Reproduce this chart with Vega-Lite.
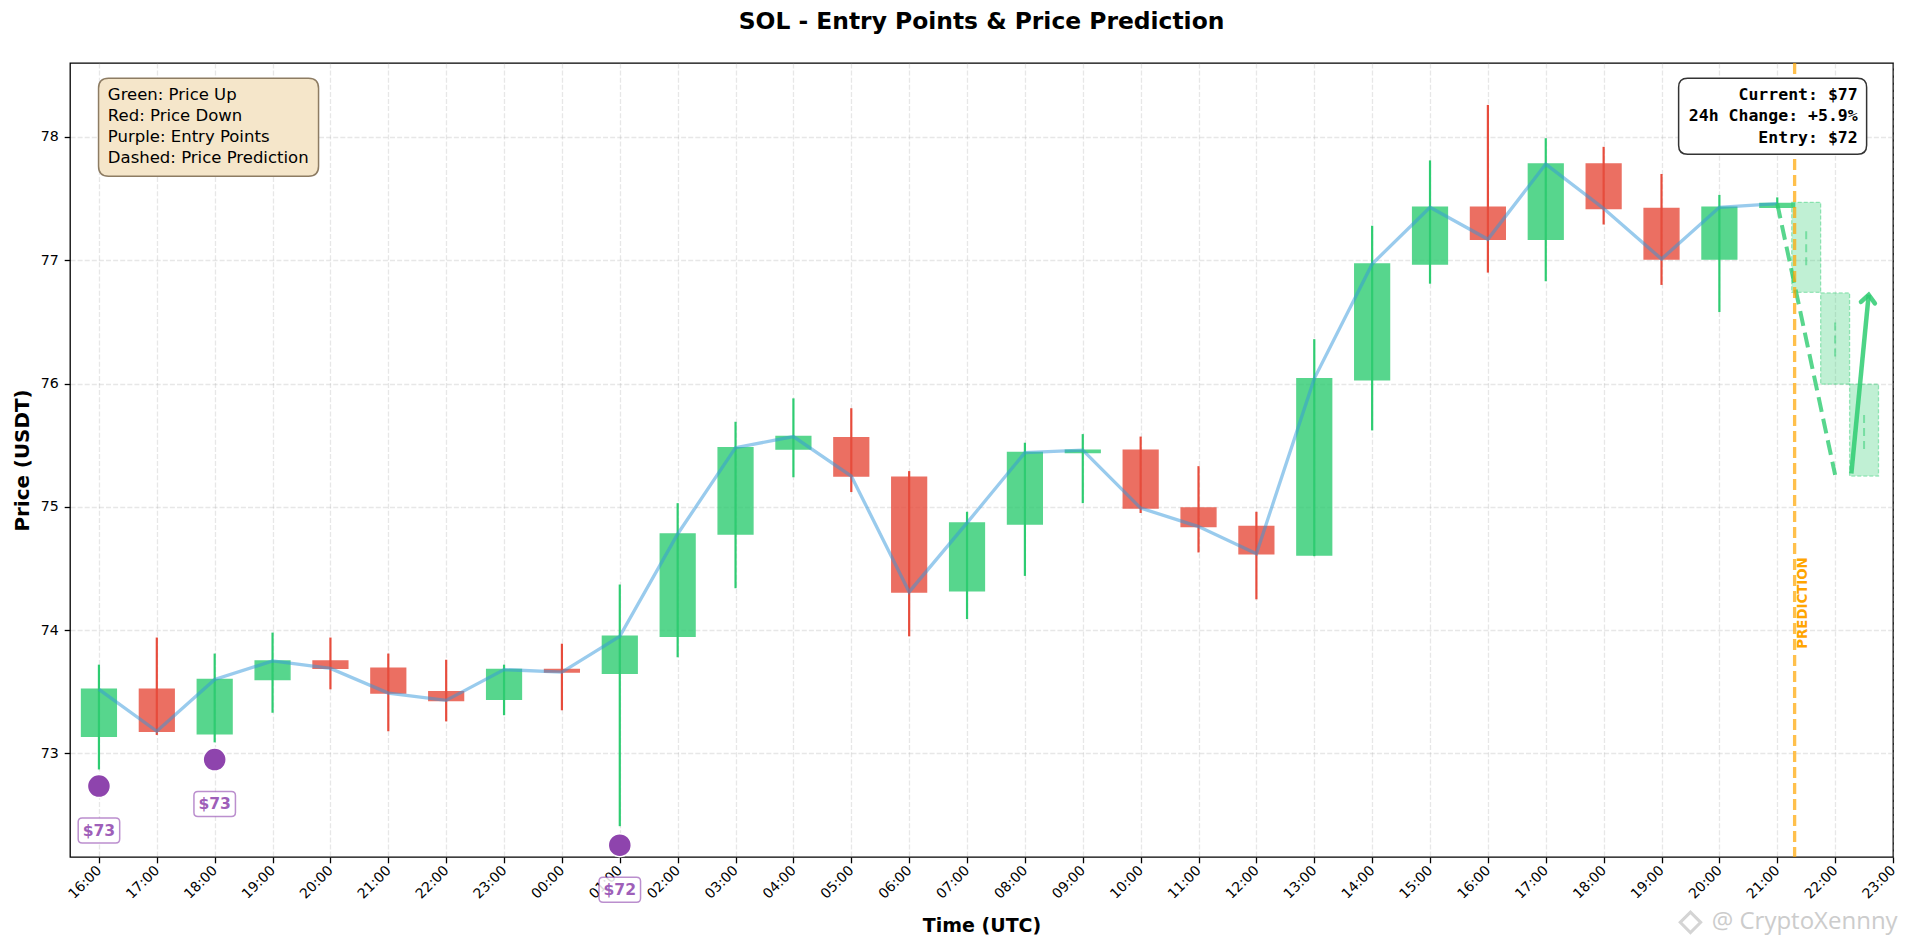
{
  "$schema": "https://vega.github.io/schema/vega-lite/v6.json",
  "width": 1823,
  "height": 794,
  "autosize": {"type": "none"},
  "padding": {"left": 70, "top": 63, "right": 12, "bottom": 90},
  "background": "white",
  "title": {
    "text": "SOL - Entry Points & Price Prediction",
    "font": "DejaVu Sans",
    "fontSize": 23.4,
    "fontWeight": "bold",
    "color": "black",
    "anchor": "middle",
    "offset": 27
  },
  "config": {
    "font": "DejaVu Sans",
    "view": {"stroke": "black", "strokeWidth": 1.3},
    "scale": {"continuousPadding": 0}
  },
  "datasets": {
    "candles": [
      {"i": 0, "time": "16:00", "open": 73.14, "high": 73.72, "low": 72.87, "close": 73.52},
      {"i": 1, "time": "17:00", "open": 73.52, "high": 73.94, "low": 73.15, "close": 73.18},
      {"i": 2, "time": "18:00", "open": 73.16, "high": 73.81, "low": 73.09, "close": 73.60},
      {"i": 3, "time": "19:00", "open": 73.60, "high": 73.98, "low": 73.33, "close": 73.75},
      {"i": 4, "time": "20:00", "open": 73.75, "high": 73.94, "low": 73.52, "close": 73.69},
      {"i": 5, "time": "21:00", "open": 73.69, "high": 73.81, "low": 73.18, "close": 73.49},
      {"i": 6, "time": "22:00", "open": 73.50, "high": 73.76, "low": 73.26, "close": 73.43},
      {"i": 7, "time": "23:00", "open": 73.44, "high": 73.72, "low": 73.31, "close": 73.68},
      {"i": 8, "time": "00:00", "open": 73.68, "high": 73.89, "low": 73.35, "close": 73.66},
      {"i": 9, "time": "01:00", "open": 73.65, "high": 74.37, "low": 72.41, "close": 73.95},
      {"i": 10, "time": "02:00", "open": 73.95, "high": 75.03, "low": 73.78, "close": 74.78},
      {"i": 11, "time": "03:00", "open": 74.78, "high": 75.69, "low": 74.34, "close": 75.48},
      {"i": 12, "time": "04:00", "open": 75.47, "high": 75.88, "low": 75.24, "close": 75.57},
      {"i": 13, "time": "05:00", "open": 75.56, "high": 75.80, "low": 75.12, "close": 75.25},
      {"i": 14, "time": "06:00", "open": 75.24, "high": 75.29, "low": 73.95, "close": 74.31},
      {"i": 15, "time": "07:00", "open": 74.32, "high": 74.96, "low": 74.09, "close": 74.87},
      {"i": 16, "time": "08:00", "open": 74.86, "high": 75.52, "low": 74.44, "close": 75.44},
      {"i": 17, "time": "09:00", "open": 75.44, "high": 75.59, "low": 75.03, "close": 75.46},
      {"i": 18, "time": "10:00", "open": 75.46, "high": 75.57, "low": 74.95, "close": 74.99},
      {"i": 19, "time": "11:00", "open": 74.99, "high": 75.33, "low": 74.63, "close": 74.84},
      {"i": 20, "time": "12:00", "open": 74.84, "high": 74.96, "low": 74.25, "close": 74.62},
      {"i": 21, "time": "13:00", "open": 74.61, "high": 76.36, "low": 74.60, "close": 76.04},
      {"i": 22, "time": "14:00", "open": 76.03, "high": 77.28, "low": 75.62, "close": 76.97},
      {"i": 23, "time": "15:00", "open": 76.97, "high": 77.81, "low": 76.81, "close": 77.43},
      {"i": 24, "time": "16:00", "open": 77.43, "high": 78.26, "low": 76.90, "close": 77.17},
      {"i": 25, "time": "17:00", "open": 77.17, "high": 77.99, "low": 76.83, "close": 77.78},
      {"i": 26, "time": "18:00", "open": 77.78, "high": 77.92, "low": 77.29, "close": 77.42},
      {"i": 27, "time": "19:00", "open": 77.42, "high": 77.70, "low": 76.80, "close": 77.01},
      {"i": 28, "time": "20:00", "open": 77.01, "high": 77.53, "low": 76.58, "close": 77.43},
      {"i": 29, "time": "21:00", "open": 77.43, "high": 77.51, "low": 77.42, "close": 77.46}
    ],
    "predicted": [
      {"i": 29.5, "open": 77.47, "high": 77.25, "low": 76.96, "close": 76.74},
      {"i": 30.0, "open": 76.735, "high": 76.50, "low": 76.22, "close": 75.995},
      {"i": 30.5, "open": 75.995, "high": 75.77, "low": 75.47, "close": 75.25}
    ],
    "forecast_path": [
      {"i": 29, "price": 77.46},
      {"i": 30, "price": 75.26}
    ],
    "arrow": [
      {"i": 30.28, "price": 75.27},
      {"i": 30.58, "price": 76.72}
    ],
    "entries": [
      {"i": 0, "price": 72.735, "label": "$73"},
      {"i": 2, "price": 72.95, "label": "$73"},
      {"i": 9, "price": 72.256, "label": "$72"}
    ],
    "anchor": [{}]
  },
  "layer": [
    {
      "data": {"name": "candles"},
      "mark": {"type": "rule", "strokeWidth": 2.2},
      "encoding": {
        "x": {
          "field": "i",
          "type": "quantitative",
          "title": "Time (UTC)",
          "scale": {"domain": [-0.5, 31], "nice": false, "zero": false, "padding": 0},
          "axis": {
            "values": [0, 1, 2, 3, 4, 5, 6, 7, 8, 9, 10, 11, 12, 13, 14, 15, 16, 17, 18, 19, 20, 21, 22, 23, 24, 25, 26, 27, 28, 29, 30, 31],
            "labelExpr": "(((datum.value + 16) % 24) < 10 ? '0' : '') + ((datum.value + 16) % 24) + ':00'",
            "labelAngle": -45,
            "labelAlign": "right",
            "labelBaseline": "middle",
            "labelFontSize": 13.9,
            "labelColor": "black",
            "labelPadding": 5,
            "labelOverlap": false,
            "labelFlush": false,
            "tickColor": "black",
            "tickSize": 5.8,
            "tickWidth": 1.3,
            "domain": false,
            "grid": true,
            "gridColor": "#b0b0b0",
            "gridOpacity": 0.3,
            "gridDash": [5, 2.1],
            "gridWidth": 1.3,
            "titleFontSize": 19,
            "titleFontWeight": "bold",
            "titleColor": "black",
            "titlePadding": 16
          }
        },
        "y": {
          "field": "low",
          "type": "quantitative",
          "title": "Price (USDT)",
          "scale": {"domain": [72.16, 78.6], "nice": false, "zero": false, "padding": 0},
          "axis": {
            "values": [73, 74, 75, 76, 77, 78],
            "format": "d",
            "labelFontSize": 14.2,
            "labelColor": "black",
            "labelPadding": 6,
            "tickColor": "black",
            "tickSize": 5.8,
            "tickWidth": 1.3,
            "domain": false,
            "grid": true,
            "gridColor": "#b0b0b0",
            "gridOpacity": 0.3,
            "gridDash": [5, 2.1],
            "gridWidth": 1.3,
            "titleFontSize": 19.9,
            "titleFontWeight": "bold",
            "titleColor": "black",
            "titlePadding": 8
          }
        },
        "y2": {"field": "high"},
        "color": {"condition": {"test": "datum.close >= datum.open", "value": "#2ecc71"}, "value": "#e74c3c"}
      }
    },
    {
      "data": {"name": "candles"},
      "mark": {"type": "bar", "width": 34.7, "opacity": 0.8, "strokeWidth": 1.5},
      "encoding": {
        "x": {"field": "i", "type": "quantitative", "title": "Time (UTC)"},
        "y": {"field": "open", "type": "quantitative", "title": "Price (USDT)"},
        "y2": {"field": "close"},
        "color": {"condition": {"test": "datum.close >= datum.open", "value": "#2ecc71"}, "value": "#e74c3c"},
        "stroke": {"condition": {"test": "datum.close >= datum.open", "value": "#2ecc71"}, "value": "#e74c3c"}
      }
    },
    {
      "data": {"name": "candles"},
      "mark": {"type": "line", "color": "#3498db", "opacity": 0.5, "strokeWidth": 3.3},
      "encoding": {
        "x": {"field": "i", "type": "quantitative", "title": "Time (UTC)"},
        "y": {"field": "close", "type": "quantitative", "title": "Price (USDT)"}
      }
    },
    {
      "data": {"name": "predicted"},
      "mark": {"type": "bar", "width": 28.9, "fill": "#2ecc71", "fillOpacity": 0.3, "stroke": "#2ecc71", "strokeOpacity": 0.45, "strokeWidth": 1.3, "strokeDash": [4, 2]},
      "encoding": {
        "x": {"field": "i", "type": "quantitative", "title": "Time (UTC)"},
        "y": {"field": "open", "type": "quantitative", "title": "Price (USDT)"},
        "y2": {"field": "close"}
      }
    },
    {
      "data": {"name": "predicted"},
      "mark": {"type": "rule", "color": "#2ecc71", "opacity": 0.5, "strokeWidth": 2, "strokeDash": [8, 5]},
      "encoding": {
        "x": {"field": "i", "type": "quantitative", "title": "Time (UTC)"},
        "y": {"field": "low", "type": "quantitative", "title": "Price (USDT)"},
        "y2": {"field": "high"}
      }
    },
    {
      "data": {"name": "forecast_path"},
      "mark": {"type": "line", "color": "#2ecc71", "opacity": 0.8, "strokeWidth": 4, "strokeDash": [15, 7]},
      "encoding": {
        "x": {"field": "i", "type": "quantitative", "title": "Time (UTC)"},
        "y": {"field": "price", "type": "quantitative", "title": "Price (USDT)"}
      }
    },
    {
      "data": {"name": "anchor"},
      "mark": {"type": "rule", "color": "#ffa500", "opacity": 0.7, "strokeWidth": 3.3, "strokeDash": [11, 5]},
      "encoding": {
        "x": {"datum": 29.3, "type": "quantitative", "title": "Time (UTC)"}
      }
    },
    {
      "data": {"name": "anchor"},
      "mark": {"type": "text", "text": "PREDICTION", "angle": 270, "align": "center", "baseline": "middle", "font": "DejaVu Sans", "fontSize": 13.3, "fontWeight": "bold", "color": "#ffa500"},
      "encoding": {
        "x": {"datum": 29.45, "type": "quantitative", "title": "Time (UTC)"},
        "y": {"datum": 74.22, "type": "quantitative", "title": "Price (USDT)"}
      }
    },
    {
      "data": {"name": "arrow"},
      "mark": {"type": "line", "color": "#2ecc71", "opacity": 0.85, "strokeWidth": 4.5},
      "encoding": {
        "x": {"field": "i", "type": "quantitative", "title": "Time (UTC)"},
        "y": {"field": "price", "type": "quantitative", "title": "Price (USDT)"}
      }
    },
    {
      "data": {"name": "anchor"},
      "mark": {"type": "point", "shape": "M-0.8,0.9 L0,0 L0.8,0.9", "size": 306, "angle": 5.6, "filled": false, "stroke": "#2ecc71", "strokeWidth": 4.5, "opacity": 0.85, "strokeCap": "round"},
      "encoding": {
        "x": {"datum": 30.58, "type": "quantitative", "title": "Time (UTC)"},
        "y": {"datum": 76.72, "type": "quantitative", "title": "Price (USDT)"}
      }
    },
    {
      "data": {"name": "entries"},
      "mark": {"type": "point", "shape": "circle", "size": 530, "filled": true, "fill": "#8e44ad", "stroke": "white", "strokeWidth": 1.5, "opacity": 1},
      "encoding": {
        "x": {"field": "i", "type": "quantitative", "title": "Time (UTC)"},
        "y": {"field": "price", "type": "quantitative", "title": "Price (USDT)"}
      }
    },
    {
      "data": {"name": "entries"},
      "mark": {"type": "point", "shape": "M-0.807,-0.602 L0.807,-0.602 Q1,-0.602 1,-0.409 L1,0.409 Q1,0.602 0.807,0.602 L-0.807,0.602 Q-1,0.602 -1,0.409 L-1,-0.409 Q-1,-0.602 -0.807,-0.602 Z", "size": 1722, "filled": true, "fill": "white", "fillOpacity": 0.85, "stroke": "#8e44ad", "strokeOpacity": 0.6, "strokeWidth": 1.5, "opacity": 1, "yOffset": 44.5},
      "encoding": {
        "x": {"field": "i", "type": "quantitative", "title": "Time (UTC)"},
        "y": {"field": "price", "type": "quantitative", "title": "Price (USDT)"}
      }
    },
    {
      "data": {"name": "entries"},
      "mark": {"type": "text", "font": "DejaVu Sans", "fontSize": 15.6, "fontWeight": "bold", "color": "#8e44ad", "opacity": 0.85, "align": "center", "baseline": "middle", "dy": 44.5},
      "encoding": {
        "x": {"field": "i", "type": "quantitative", "title": "Time (UTC)"},
        "y": {"field": "price", "type": "quantitative", "title": "Price (USDT)"},
        "text": {"field": "label"}
      }
    },
    {
      "data": {"name": "anchor"},
      "mark": {"type": "point", "shape": "M-0.909,-0.445 L0.909,-0.445 Q1,-0.445 1,-0.354 L1,0.354 Q1,0.445 0.909,0.445 L-0.909,0.445 Q-1,0.445 -1,0.354 L-1,-0.354 Q-1,-0.445 -0.909,-0.445 Z", "size": 48400, "filled": true, "fill": "#f5e6ca", "stroke": "#8d7c63", "strokeWidth": 1.5, "opacity": 1},
      "encoding": {
        "x": {"datum": 1.894, "type": "quantitative", "title": "Time (UTC)"},
        "y": {"datum": 78.079, "type": "quantitative", "title": "Price (USDT)"}
      }
    },
    {
      "data": {"name": "anchor"},
      "mark": {"type": "text", "text": "Green: Price Up\nRed: Price Down\nPurple: Entry Points\nDashed: Price Prediction", "lineBreak": "\n", "lineHeight": 20.8, "align": "left", "baseline": "middle", "font": "DejaVu Sans", "fontSize": 16.5, "color": "black"},
      "encoding": {
        "x": {"datum": 0.154, "type": "quantitative", "title": "Time (UTC)"},
        "y": {"datum": 78.338, "type": "quantitative", "title": "Price (USDT)"}
      }
    },
    {
      "data": {"name": "anchor"},
      "mark": {"type": "point", "shape": "M-0.904,-0.404 L0.904,-0.404 Q1,-0.404 1,-0.308 L1,0.308 Q1,0.404 0.904,0.404 L-0.904,0.404 Q-1,0.404 -1,0.308 L-1,-0.308 Q-1,-0.404 -0.904,-0.404 Z", "size": 35344, "filled": true, "fill": "white", "stroke": "#333333", "strokeWidth": 1.5, "opacity": 1},
      "encoding": {
        "x": {"datum": 28.92, "type": "quantitative", "title": "Time (UTC)"},
        "y": {"datum": 78.168, "type": "quantitative", "title": "Price (USDT)"}
      }
    },
    {
      "data": {"name": "anchor"},
      "mark": {"type": "text", "text": "Current: $77\n24h Change: +5.9%\nEntry: $72", "lineBreak": "\n", "lineHeight": 21.7, "align": "right", "baseline": "middle", "font": "DejaVu Sans Mono", "fontSize": 16.5, "fontWeight": "bold", "color": "black"},
      "encoding": {
        "x": {"datum": 30.39, "type": "quantitative", "title": "Time (UTC)"},
        "y": {"datum": 78.344, "type": "quantitative", "title": "Price (USDT)"}
      }
    },
    {
      "data": {"name": "anchor"},
      "mark": {"type": "point", "shape": "diamond", "size": 420, "filled": false, "stroke": "#d4d4d4", "strokeWidth": 3, "opacity": 1},
      "encoding": {
        "x": {"datum": 27.5, "type": "quantitative", "title": "Time (UTC)"},
        "y": {"datum": 71.63, "type": "quantitative", "title": "Price (USDT)"}
      }
    },
    {
      "data": {"name": "anchor"},
      "mark": {"type": "text", "text": "@ CryptoXennny", "align": "right", "baseline": "middle", "font": "Open Sans", "fontSize": 24, "color": "#cccccc"},
      "encoding": {
        "x": {"datum": 31.08, "type": "quantitative", "title": "Time (UTC)"},
        "y": {"datum": 71.63, "type": "quantitative", "title": "Price (USDT)"}
      }
    }
  ]
}
